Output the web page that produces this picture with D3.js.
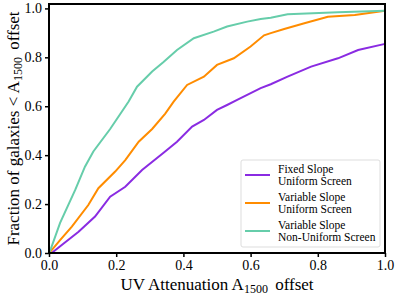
<!DOCTYPE html>
<html><head><meta charset="utf-8">
<script src="https://cdn.jsdelivr.net/npm/d3@7"></script>
<style>body{margin:0;background:#fff}svg{display:block}svg text{font-family:"Liberation Serif","DejaVu Serif",serif !important}</style>
</head><body>
<svg id="c" width="399" height="297"></svg>
<script>
const seriesNames = ["Fixed Slope|Uniform Screen","Variable Slope|Uniform Screen","Variable Slope|Non-Uniform Screen"];
const seriesColors = ["#8a2be2","#ff8c00","#66cdaa"];
const fixedX = [0,0.008,0.038,0.088,0.137,0.182,0.227,0.277,0.341,0.381,0.426,0.461,0.5,0.53,0.56,0.63,0.66,0.71,0.78,0.86,0.92,1.0];
const fixedY = [0,0,0.033,0.087,0.149,0.23,0.271,0.339,0.41,0.455,0.517,0.544,0.585,0.605,0.626,0.674,0.69,0.721,0.762,0.796,0.83,0.855];
const varX = [0,0.008,0.033,0.068,0.117,0.147,0.197,0.227,0.267,0.307,0.346,0.371,0.411,0.461,0.5,0.55,0.6,0.64,0.66,0.7,0.76,0.83,0.91,1.0];
const varY = [0,0.012,0.053,0.108,0.196,0.265,0.333,0.38,0.455,0.507,0.57,0.619,0.687,0.721,0.769,0.796,0.844,0.89,0.899,0.916,0.939,0.966,0.973,0.99];
const nonX = [0,0.006,0.033,0.078,0.107,0.132,0.182,0.237,0.262,0.307,0.34,0.381,0.431,0.49,0.53,0.59,0.63,0.66,0.71,0.86,1.0];
const nonY = [0,0.019,0.123,0.258,0.353,0.415,0.507,0.619,0.68,0.742,0.78,0.83,0.878,0.905,0.926,0.946,0.957,0.962,0.976,0.984,0.99];
const xTicks = [0,0.2,0.4,0.6,0.8,1.0];
const yTicks = [0,0.2,0.4,0.6,0.8,1.0];

const svg = d3.select("#c");
const L=49,R=385,T=4,B=253;
const x = d3.scaleLinear().domain([0,1]).range([L,R]);
const y = d3.scaleLinear().domain([0,1.018]).range([B,T]);
const data = [[fixedX,fixedY],[varX,varY],[nonX,nonY]];
const line = d3.line().x(d=>x(d[0])).y(d=>y(d[1]));
data.forEach((s,i)=>{
  svg.append("path").datum(s[0].map((v,j)=>[v,s[1][j]]))
    .attr("d",line).attr("fill","none").attr("stroke",seriesColors[i]).attr("stroke-width",2);
});
const xa = svg.append("g").attr("transform",`translate(0,${B})`)
  .call(d3.axisBottom(x).tickValues(xTicks).tickFormat(d3.format(".1f")).tickSize(4).tickPadding(3));
const ya = svg.append("g").attr("transform",`translate(${L},0)`)
  .call(d3.axisLeft(y).tickValues(yTicks).tickFormat(d3.format(".1f")).tickSize(4).tickPadding(3));
[xa,ya].forEach(a=>{a.attr("font-family","Liberation Serif").attr("font-size",14);
  a.select(".domain").remove();a.selectAll("line").attr("stroke","#000").attr("stroke-width",1.5);
  a.selectAll("text").attr("fill","#000");});
svg.append("rect").attr("x",L).attr("y",T).attr("width",R-L).attr("height",B-T)
  .attr("fill","none").attr("stroke","#000").attr("stroke-width",2);

// axis labels
const xl = svg.append("text").attr("x",(L+R)/2).attr("y",290).attr("text-anchor","middle").attr("font-size",17);
xl.append("tspan").text("UV Attenuation A");
xl.append("tspan").text("1500").attr("font-size",12).attr("dy",3);
xl.append("tspan").text(" offset").attr("dy",-3).attr("dx",3);
const yl = svg.append("text").attr("transform",`translate(19,${(T+B)/2}) rotate(-90)`).attr("text-anchor","middle").attr("font-size",17);
yl.append("tspan").text("Fraction of galaxies < A");
yl.append("tspan").text("1500").attr("font-size",12).attr("dy",3);
yl.append("tspan").text(" offset").attr("dy",-3).attr("dx",3);

// legend
const lg = svg.append("g");
lg.append("rect").attr("x",241).attr("y",160).attr("width",139).attr("height",87).attr("rx",2)
  .attr("fill","#fff").attr("stroke","#ddd").attr("stroke-width",1);
seriesNames.forEach((n,i)=>{
  const cy = 175 + i*28;
  lg.append("line").attr("x1",245).attr("x2",270).attr("y1",cy).attr("y2",cy).attr("stroke",seriesColors[i]).attr("stroke-width",2);
  n.split("|").forEach((t,k)=>{
    lg.append("text").attr("x",278).attr("y",cy-6+k*12+4).attr("font-size",11.5).attr("fill","#000").text(t);
  });
});
</script>
</body></html>
